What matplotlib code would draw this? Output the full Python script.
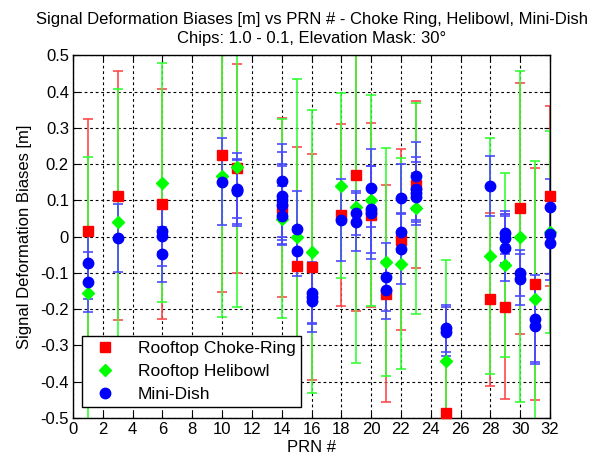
import matplotlib
matplotlib.use('Agg')
import matplotlib.pyplot as plt
import numpy as np

plt.rcParams['font.family'] = ['Liberation Sans', 'DejaVu Sans']

# PRNs observed (one choke-ring / helibowl value per PRN)
prn = [1, 3, 6, 10, 11, 14, 15, 16, 18, 19, 20, 21, 22, 23, 25, 28, 29, 30, 31, 32]

# Rooftop Choke-Ring
choke_val = [0.015, 0.113, 0.09, 0.226, 0.189, 0.08, -0.082, -0.083, 0.06, 0.17,
             0.06, -0.157, -0.008, 0.143, -0.486, -0.173, -0.193, 0.078, -0.131, 0.113]
choke_err = [0.31, 0.343, 0.317, 0.378, 0.288, 0.247, 0.33, 0.311, 0.25, 0.374,
             0.255, 0.3, 0.25, 0.23, 0.22, 0.238, 0.255, 0.347, 0.32, 0.248]

# Rooftop Helibowl
heli_val = [-0.155, 0.041, 0.149, 0.168, 0.193, 0.05, 0.0, -0.041, 0.141, 0.081,
            0.1, -0.069, -0.074, 0.078, -0.343, -0.053, -0.078, 0.0, -0.173, 0.013]
heli_err = [0.376, 0.366, 0.33, 0.39, 0.386, 0.275, 0.435, 0.39, 0.255, 0.43,
            0.29, 0.315, 0.29, 0.29, 0.28, 0.326, 0.254, 0.456, 0.383, 0.279]

# Mini-Dish (several passes per PRN)
dish_prn = [1, 1, 3, 6, 6, 6, 10, 11, 11, 11, 14, 14, 14, 14, 14, 15, 15, 16, 16, 16,
            18, 19, 19, 20, 20, 20, 21, 21, 22, 22, 22, 23, 23, 23, 23, 25, 25, 28,
            29, 29, 29, 30, 30, 31, 31, 32, 32, 32]
dish_val = [-0.072, -0.124, -0.004, 0.017, 0.003, -0.048, 0.152, 0.13, 0.125, 0.133,
            0.155, 0.113, 0.1, 0.088, 0.058, 0.021, -0.04, -0.155, -0.166, -0.176,
            0.046, 0.065, 0.04, 0.134, 0.076, 0.066, -0.11, -0.147, 0.106, 0.012, -0.034,
            0.168, 0.131, 0.12, 0.11, -0.253, -0.262, 0.14,
            0.011, -0.004, -0.032, -0.1, -0.117, -0.226, -0.247, 0.081, 0.007, -0.018]
dish_err = [0.1, 0.083, 0.093, 0.06, 0.083, 0.076, 0.12, 0.1, 0.09, 0.08,
            0.1, 0.122, 0.1, 0.107, 0.082, 0.106, 0.068, 0.085, 0.073, 0.086,
            0.112, 0.06, 0.08, 0.107, 0.12, 0.128, 0.094, 0.08, 0.094, 0.053, 0.097,
            0.094, 0.09, 0.087, 0.065, 0.066, 0.067, 0.083,
            0.06, 0.068, 0.09, 0.063, 0.07, 0.12, 0.104, 0.078, 0.111, 0.102]

fig = plt.figure(figsize=(6.09, 4.66), dpi=100)
ax = fig.add_axes([0.12, 0.103, 0.783, 0.778])

series = [
    (prn, choke_val, choke_err, 's', '#ff0000', '#ff4a4a', 'Rooftop Choke-Ring', 7),
    (prn, heli_val, heli_err, 'D', '#00ff00', '#33ff33', 'Rooftop Helibowl', 6),
    (dish_prn, dish_val, dish_err, 'o', '#0000ff', '#4a4aff', 'Mini-Dish', 7.5),
]
for x, y, e, m, c, ec, lab, ms in series:
    ax.errorbar(x, y, yerr=e, fmt='none', ecolor=ec, elinewidth=1.2,
                capsize=3.5, capthick=1.2, zorder=2)
    ax.plot(x, y, ls='none', marker=m, color=c, markersize=ms, label=lab,
            clip_on=False, zorder=3)

ax.set_xlim(0, 32)
ax.set_ylim(-0.5, 0.5)
ax.set_xticks(np.arange(0, 33, 2))
ax.set_yticks(np.round(np.arange(-0.5, 0.51, 0.1), 1))
ax.set_yticklabels(['-0.5', '-0.4', '-0.3', '-0.2', '-0.1', '0', '0.1', '0.2', '0.3', '0.4', '0.5'])
ax.tick_params(direction='in', top=True, right=True, length=4, labelsize=12, pad=3)
ax.grid(True, color='black', linestyle=(0, (2.5, 2.5)), linewidth=0.8)
for s in ax.spines.values():
    s.set_linewidth(1.0)

ax.set_xlabel('PRN #', fontsize=12, labelpad=2)
ax.set_ylabel('Signal Deformation Biases [m]', fontsize=12, labelpad=6)
ax.set_title('Signal Deformation Biases [m] vs PRN # - Choke Ring, Helibowl, Mini-Dish\n'
             'Chips: 1.0 - 0.1, Elevation Mask: 30°', fontsize=12, pad=9,
             linespacing=1.3)

leg = ax.legend(loc='lower left', bbox_to_anchor=(0.019, 0.03), fontsize=12.5,
                fancybox=False, framealpha=1, edgecolor='black', borderpad=0.3,
                handletextpad=0.9, labelspacing=0.45, borderaxespad=0)
leg.get_frame().set_linewidth(1.0)
leg.set_zorder(5)

fig.savefig('out.png', dpi=100)
